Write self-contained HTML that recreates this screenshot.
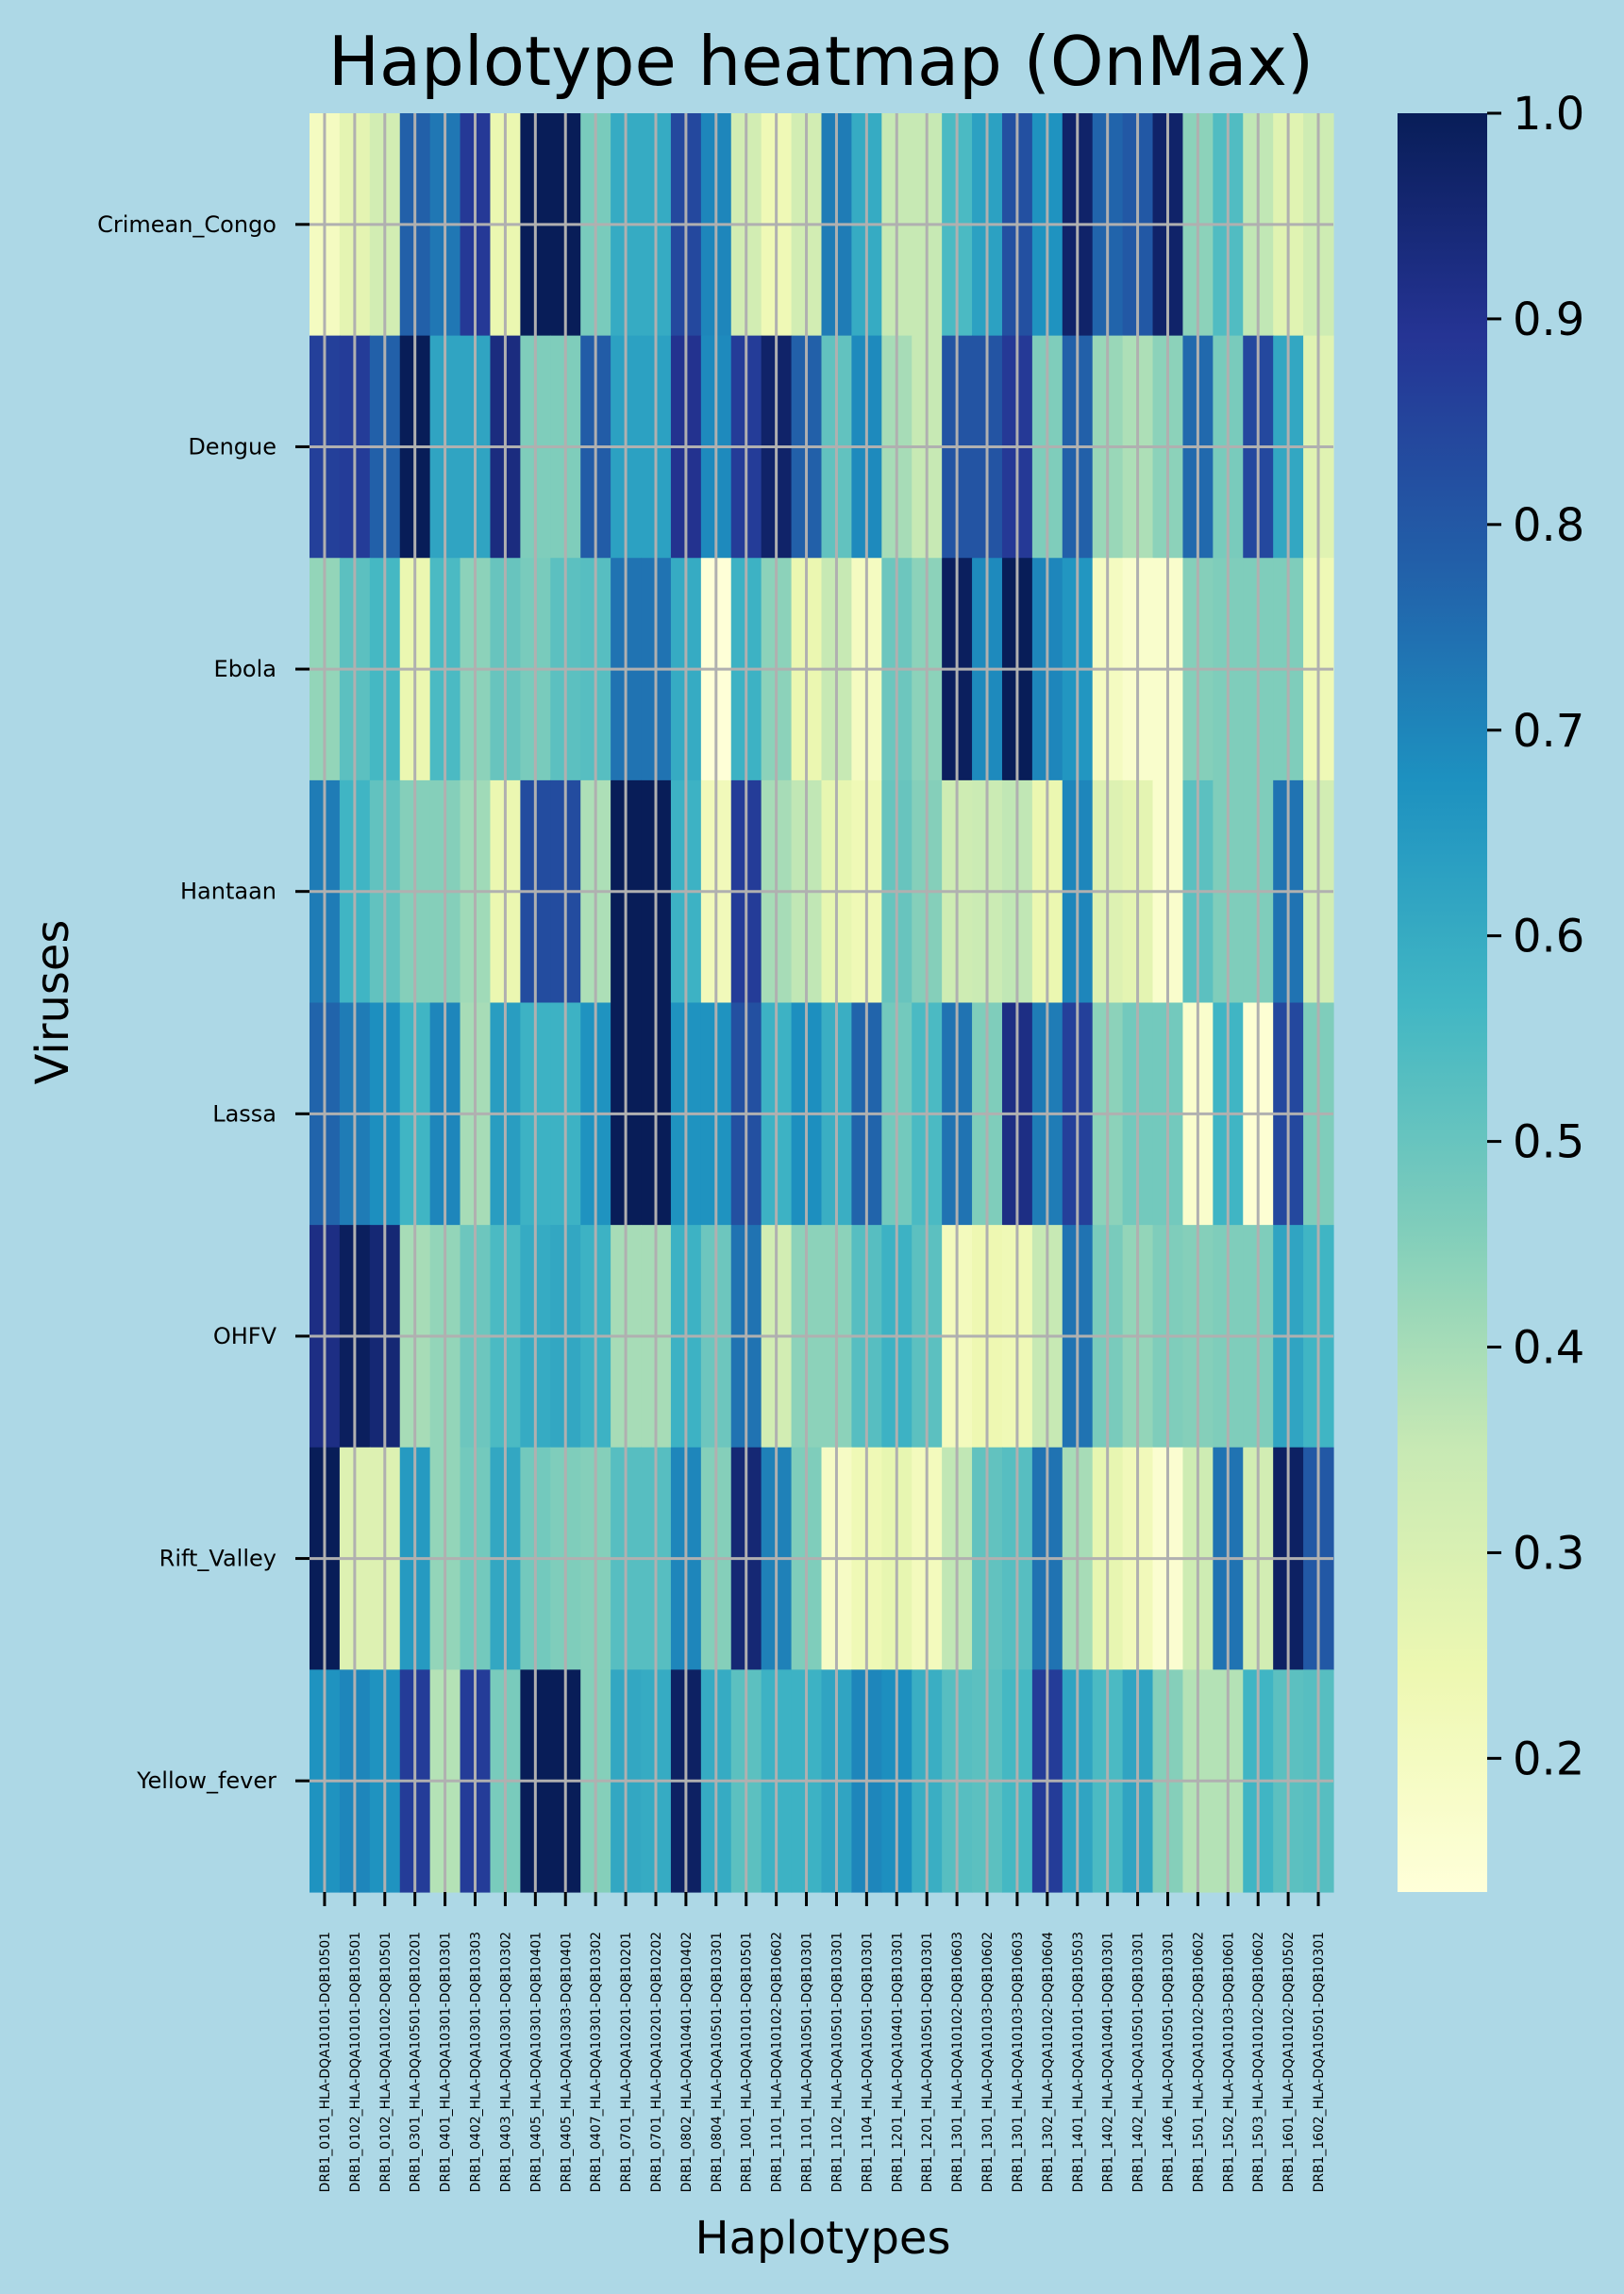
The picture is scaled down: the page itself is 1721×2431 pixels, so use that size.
<!DOCTYPE html>
<html><head><meta charset="utf-8">
<style>
html,body{margin:0;padding:0;background:#add8e6;}
svg{display:block;font-family:"DejaVu Sans","Liberation Sans",sans-serif;}
</style></head>
<body>
<svg id="chart" width="1721" height="2431" viewBox="0 0 1721 2431" xmlns="http://www.w3.org/2000/svg">
<rect x="0" y="0" width="1721" height="2431" fill="#add8e6"/>
<text x="870" y="90" font-size="72" text-anchor="middle" fill="#000">Haplotype heatmap (OnMax)</text>
<g id="cells"></g>
<g id="grid"></g>
<g id="yaxis"></g>
<g id="xaxis"></g>
<g id="cbar"></g>
<text x="0" y="0" font-size="48" text-anchor="middle" transform="translate(72,1062) rotate(-90)">Viruses</text>
<text x="872" y="2388" font-size="48" text-anchor="middle">Haplotypes</text>
</svg>
<script>
const viruses = ["Crimean_Congo","Dengue","Ebola","Hantaan","Lassa","OHFV","Rift_Valley","Yellow_fever"];
const haplotypes = ["DRB1_0101_HLA-DQA10101-DQB10501","DRB1_0102_HLA-DQA10101-DQB10501","DRB1_0102_HLA-DQA10102-DQB10501","DRB1_0301_HLA-DQA10501-DQB10201","DRB1_0401_HLA-DQA10301-DQB10301","DRB1_0402_HLA-DQA10301-DQB10303","DRB1_0403_HLA-DQA10301-DQB10302","DRB1_0405_HLA-DQA10301-DQB10401","DRB1_0405_HLA-DQA10303-DQB10401","DRB1_0407_HLA-DQA10301-DQB10302","DRB1_0701_HLA-DQA10201-DQB10201","DRB1_0701_HLA-DQA10201-DQB10202","DRB1_0802_HLA-DQA10401-DQB10402","DRB1_0804_HLA-DQA10501-DQB10301","DRB1_1001_HLA-DQA10101-DQB10501","DRB1_1101_HLA-DQA10102-DQB10602","DRB1_1101_HLA-DQA10501-DQB10301","DRB1_1102_HLA-DQA10501-DQB10301","DRB1_1104_HLA-DQA10501-DQB10301","DRB1_1201_HLA-DQA10401-DQB10301","DRB1_1201_HLA-DQA10501-DQB10301","DRB1_1301_HLA-DQA10102-DQB10603","DRB1_1301_HLA-DQA10103-DQB10602","DRB1_1301_HLA-DQA10103-DQB10603","DRB1_1302_HLA-DQA10102-DQB10604","DRB1_1401_HLA-DQA10101-DQB10503","DRB1_1402_HLA-DQA10401-DQB10301","DRB1_1402_HLA-DQA10501-DQB10301","DRB1_1406_HLA-DQA10501-DQB10301","DRB1_1501_HLA-DQA10102-DQB10602","DRB1_1502_HLA-DQA10103-DQB10601","DRB1_1503_HLA-DQA10102-DQB10602","DRB1_1601_HLA-DQA10102-DQB10502","DRB1_1602_HLA-DQA10501-DQB10301"];
const rowCrimean = [0.2,0.27,0.32,0.78,0.73,0.88,0.25,1.0,1.0,0.47,0.6,0.6,0.84,0.7,0.32,0.23,0.32,0.72,0.6,0.35,0.35,0.55,0.63,0.82,0.67,0.97,0.77,0.8,0.97,0.44,0.54,0.36,0.28,0.33];
const rowDengue = [0.86,0.87,0.78,1.0,0.62,0.62,0.93,0.46,0.46,0.79,0.63,0.63,0.9,0.69,0.87,0.97,0.78,0.51,0.69,0.4,0.35,0.81,0.81,0.88,0.46,0.78,0.42,0.39,0.44,0.76,0.47,0.84,0.61,0.28];
const rowEbola = [0.43,0.52,0.56,0.25,0.55,0.44,0.5,0.47,0.52,0.53,0.74,0.74,0.6,0.14,0.58,0.44,0.25,0.35,0.2,0.49,0.44,0.99,0.69,1.0,0.7,0.66,0.2,0.17,0.17,0.45,0.46,0.46,0.46,0.23];
const rowHantaan = [0.72,0.57,0.51,0.45,0.45,0.41,0.25,0.83,0.83,0.39,1.0,1.0,0.58,0.22,0.87,0.4,0.36,0.26,0.23,0.5,0.45,0.33,0.34,0.36,0.25,0.7,0.29,0.27,0.17,0.52,0.46,0.46,0.74,0.32];
const rowLassa = [0.77,0.72,0.68,0.57,0.7,0.4,0.64,0.58,0.58,0.67,1.0,1.0,0.67,0.67,0.82,0.58,0.68,0.59,0.77,0.48,0.55,0.74,0.46,0.92,0.72,0.86,0.44,0.48,0.48,0.17,0.57,0.15,0.84,0.46];
const rowOHFV = [0.92,0.99,0.95,0.4,0.43,0.49,0.55,0.6,0.61,0.58,0.4,0.4,0.58,0.49,0.74,0.32,0.44,0.44,0.53,0.58,0.52,0.21,0.24,0.23,0.35,0.74,0.47,0.43,0.46,0.45,0.46,0.46,0.62,0.57];
const rowRift = [1.0,0.29,0.29,0.65,0.43,0.48,0.61,0.48,0.46,0.45,0.53,0.53,0.7,0.45,0.95,0.71,0.46,0.19,0.23,0.26,0.21,0.36,0.51,0.53,0.74,0.4,0.26,0.22,0.16,0.33,0.74,0.32,0.98,0.8];
const rowYellow = [0.67,0.7,0.67,0.87,0.38,0.87,0.47,1.0,1.0,0.45,0.61,0.6,0.98,0.6,0.52,0.58,0.58,0.62,0.7,0.68,0.59,0.53,0.52,0.56,0.87,0.62,0.55,0.62,0.45,0.38,0.38,0.57,0.52,0.53];
const cbarTicks = [0.2,0.3,0.4,0.5,0.6,0.7,0.8,0.9,1.0];
const cbarTickLabels = ["0.2","0.3","0.4","0.5","0.6","0.7","0.8","0.9","1.0"];
const vmin = 0.135, vmax = 1.0;

const matrix = [rowCrimean,rowDengue,rowEbola,rowHantaan,rowLassa,rowOHFV,rowRift,rowYellow];
const NS = "http://www.w3.org/2000/svg";
const PX0 = 328, PX1 = 1413, PY0 = 120, PY1 = 2005;
const nCols = haplotypes.length, nRows = viruses.length;
const cw = (PX1-PX0)/nCols, rh = (PY1-PY0)/nRows;
function xCell(j){return PX0 + j*cw;}
function yCell(i){return PY0 + i*rh;}
const stops = ["#ffffd9","#edf8b1","#c7e9b4","#7fcdbb","#41b6c4","#1d91c0","#225ea8","#253494","#081d58"];
function hex(h){return [parseInt(h.substr(1,2),16),parseInt(h.substr(3,2),16),parseInt(h.substr(5,2),16)];}
function cmap(v){
  let t=(v-vmin)/(vmax-vmin); t=Math.max(0,Math.min(1,t));
  const p=t*(stops.length-1); const k=Math.min(stops.length-2,Math.floor(p)); const f=p-k;
  const a=hex(stops[k]), b=hex(stops[k+1]);
  return "rgb("+a.map((c,i)=>Math.round(c+(b[i]-c)*f)).join(",")+")";
}
function mk(tag, attrs, parent){const e=document.createElementNS(NS,tag);for(const k in attrs)e.setAttribute(k,attrs[k]);parent.appendChild(e);return e;}

const cells=document.getElementById("cells");
matrix.forEach((row,i)=>{row.forEach((v,j)=>{
  const r=mk("rect",{x:xCell(j),y:yCell(i),width:cw+0.6,height:rh+0.6,fill:cmap(v)},cells);
  
  
});});

const grid=document.getElementById("grid");
for(let j=0;j<nCols;j++){
  const l=mk("line",{x1:xCell(j)+cw/2,x2:xCell(j)+cw/2,y1:PY0,y2:PY1,stroke:"#b0b0b0","stroke-width":3},grid);
  
  
}
for(let i=0;i<nRows;i++){
  const l=mk("line",{x1:PX0,x2:PX1,y1:yCell(i)+rh/2,y2:yCell(i)+rh/2,stroke:"#b0b0b0","stroke-width":3},grid);
  
  
}

const ya=document.getElementById("yaxis");
viruses.forEach((name,i)=>{
  const y=yCell(i)+rh/2;
  const t=mk("line",{x1:PX0-15,x2:PX0,y1:y,y2:y,stroke:"#000","stroke-width":3},ya);
  
  
  const tx=mk("text",{x:293,y:y+8,"font-size":"24","text-anchor":"end"},ya);
  tx.textContent=name;
  
  
});

const xa=document.getElementById("xaxis");
haplotypes.forEach((name,j)=>{
  const x=xCell(j)+cw/2;
  const t=mk("line",{x1:x,x2:x,y1:PY1,y2:PY1+15,stroke:"#000","stroke-width":3},xa);
  
  
  const tx=mk("text",{x:0,y:0,"font-size":"13.9","text-anchor":"end",transform:"translate("+(x+5)+",2047) rotate(-90)"},xa);
  tx.textContent=name;
  
  
});

const cb=document.getElementById("cbar");
const CX0=1481, CX1=1576;
const defs=mk("defs",{},cb);
const grad=mk("linearGradient",{id:"cbg",x1:"0",y1:"1",x2:"0",y2:"0"},defs);
for(let k=0;k<=40;k++){const v=vmin+(vmax-vmin)*k/40;mk("stop",{offset:(k/40),"stop-color":cmap(v)},grad);}
const cr=mk("rect",{x:CX0,y:PY0,width:CX1-CX0,height:PY1-PY0,fill:"url(#cbg)"},cb);


function yC(v){return PY0+(vmax-v)/(vmax-vmin)*(PY1-PY0);}
cbarTicks.forEach((v,k)=>{
  const y=yC(v);
  const t=mk("line",{x1:CX1,x2:CX1+15,y1:y,y2:y,stroke:"#000","stroke-width":3},cb);
  
  
  const tx=mk("text",{x:CX1+27,y:y+17,"font-size":"48"},cb);
  tx.textContent=cbarTickLabels[k];
  
  
});
</script>
</body></html>
